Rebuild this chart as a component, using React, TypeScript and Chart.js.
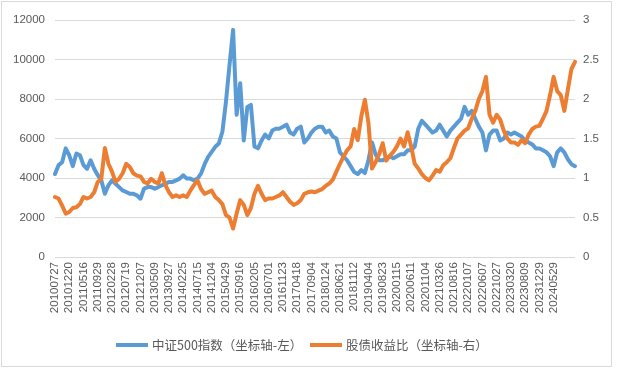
import React, { useEffect, useRef } from 'react';
import Chart from 'chart.js/auto';

const tickLabels = [
  '20100727', '20101220', '20110516', '20110929', '20120228', '20120719', '20121207', '20130509', '20130927',
  '20140225', '20140715', '20141204', '20150429', '20150916', '20160205', '20160701', '20161123', '20170418',
  '20170904', '20180124', '20180621', '20181112', '20190404', '20190823', '20200115', '20200611', '20201104',
  '20210326', '20210816', '20220107', '20220607', '20221027', '20230320', '20230809', '20231229', '20240529',
];

const POINTS_PER_TICK = 4;

// 中证500指数 (left axis)
const csi500 = [
  4200, 4650, 4800, 5500, 5150, 4600, 5240, 5150, 4650, 4470,
  4900, 4470, 4140, 3880, 3200, 3630, 3880, 3710, 3540, 3370,
  3290, 3200, 3200, 3120, 2950, 3460, 3540, 3540, 3460, 3540,
  3630, 3710, 3800, 3800, 3880, 3970, 4140, 3970, 3970, 3880,
  3970, 4220, 4700, 5070, 5320, 5580, 5750, 6340, 7860, 9730,
  11500, 7200, 8800, 5900, 7600, 7700, 5600, 5500, 5900, 6200,
  6000, 6400, 6500, 6500, 6600, 6700, 6300, 6200, 6500, 6600,
  5800, 6000, 6300, 6500, 6600, 6600, 6300, 6400, 6100, 6000,
  5300, 5100, 4900, 4600, 4300, 4200, 4400, 4250, 4900, 5800,
  5200, 4900, 4900, 5000, 5100, 5000, 5100, 5200, 5200, 5400,
  5400, 5600, 6500, 6900, 6700, 6500, 6300, 6400, 6700, 6400,
  6100, 6400, 6600, 6800, 7000, 7600, 7200, 7400, 7000, 6600,
  6300, 5400, 6200, 6400, 6400, 5900, 6000, 6300, 6200, 6300,
  6200, 6100, 5900, 5800, 5700, 5500, 5500, 5400, 5300, 5100,
  4600, 5300, 5500, 5300, 4950, 4700, 4600,
];

// 股债收益比 (right axis)
const ratio = [
  0.76, 0.74, 0.65, 0.55, 0.57, 0.62, 0.63, 0.67, 0.76, 0.74,
  0.76, 0.82, 0.95, 0.99, 1.38, 1.18, 1.08, 0.95, 0.99, 1.06,
  1.18, 1.14, 1.06, 1.03, 1.02, 0.95, 0.93, 0.99, 0.95, 0.93,
  1.06, 0.91, 0.82, 0.76, 0.78, 0.76, 0.78, 0.76, 0.84, 0.91,
  0.97, 0.86, 0.80, 0.82, 0.84, 0.76, 0.72, 0.67, 0.53, 0.50,
  0.36, 0.55, 0.72, 0.66, 0.53, 0.62, 0.80, 0.90, 0.80, 0.72,
  0.74, 0.74, 0.76, 0.78, 0.82, 0.76, 0.70, 0.66, 0.68, 0.72,
  0.80, 0.82, 0.83, 0.82, 0.84, 0.86, 0.90, 0.93, 0.98, 1.08,
  1.18, 1.27, 1.35, 1.40, 1.62, 1.48, 1.78, 1.99, 1.70, 1.12,
  1.20, 1.30, 1.44, 1.22, 1.28, 1.33, 1.40, 1.50, 1.40, 1.58,
  1.40, 1.18, 1.12, 1.05, 1.00, 0.97, 1.03, 1.10, 1.08, 1.16,
  1.20, 1.25, 1.38, 1.50, 1.55, 1.60, 1.63, 1.75, 1.85, 2.00,
  2.10, 2.28, 1.80, 1.70, 1.80, 1.74, 1.60, 1.50, 1.45, 1.45,
  1.42, 1.48, 1.44, 1.55, 1.62, 1.65, 1.66, 1.75, 1.85, 2.05,
  2.28, 2.10, 2.05, 1.85, 2.12, 2.38, 2.47,
];

const leftTicks = { min: 0, max: 12000, step: 2000 };
const rightTicks = { min: 0, max: 3, step: 0.5 };

const seriesNames = ['中证500指数（坐标轴-左）', '股债收益比（坐标轴-右）'];
const BLUE = '#5B9BD5';
const ORANGE = '#ED7D31';
const TEXT = '#595959';

const categories = csi500.map((_, i) =>
  i % POINTS_PER_TICK === 0 ? tickLabels[i / POINTS_PER_TICK] ?? '' : ''
);

export default function App() {
  const ref = useRef<HTMLCanvasElement>(null);

  useEffect(() => {
    const tickFont = { family: '"Liberation Sans", Arial, sans-serif', size: 11.5 };
    const plain = (v: any) => String(v);
    const chart = new Chart(ref.current!, {
      type: 'line',
      data: {
        labels: categories,
        datasets: [
          {
            label: seriesNames[0],
            data: csi500,
            borderColor: BLUE,
            backgroundColor: BLUE,
            borderWidth: 4,
            pointRadius: 0,
            tension: 0,
            borderJoinStyle: 'round',
            borderCapStyle: 'round',
            yAxisID: 'y',
            order: 1,
          },
          {
            label: seriesNames[1],
            data: ratio,
            borderColor: ORANGE,
            backgroundColor: ORANGE,
            borderWidth: 4,
            pointRadius: 0,
            tension: 0,
            borderJoinStyle: 'round',
            borderCapStyle: 'round',
            yAxisID: 'y1',
            order: 0,
          },
        ],
      },
      options: {
        responsive: false,
        animation: false,
        devicePixelRatio: 1,
        layout: { padding: { top: 20, left: 0, right: 0, bottom: 0 } },
        plugins: { legend: { display: false }, tooltip: { enabled: false } },
        scales: {
          x: {
            grid: { display: false, drawTicks: false },
            border: { display: false },
            ticks: {
              autoSkip: false,
              minRotation: 90,
              maxRotation: 90,
              padding: 5,
              color: TEXT,
              font: tickFont,
            },
            afterFit: (s: any) => {
              s.height = 114;
            },
          },
          y: {
            position: 'left',
            min: leftTicks.min,
            max: leftTicks.max,
            ticks: { stepSize: leftTicks.step, padding: 10, color: TEXT, font: tickFont, callback: plain },
            grid: { color: '#D9D9D9', lineWidth: 1, drawTicks: false },
            border: { display: false },
            afterFit: (s: any) => {
              s.width = 55;
            },
          },
          y1: {
            position: 'right',
            min: rightTicks.min,
            max: rightTicks.max,
            ticks: { stepSize: rightTicks.step, padding: 8, color: TEXT, font: tickFont, callback: plain },
            grid: { display: false, drawTicks: false },
            border: { display: false },
            afterFit: (s: any) => {
              s.width = 42;
            },
          },
        },
      },
    });
    return () => chart.destroy();
  }, []);

  const legendText: React.CSSProperties = {
    position: 'absolute',
    top: 336,
    fontFamily: '"Noto Sans CJK SC", sans-serif',
    fontSize: 12.5,
    lineHeight: '18px',
    color: TEXT,
    whiteSpace: 'nowrap',
  };
  const swatch = (color: string, left: number): React.CSSProperties => ({
    position: 'absolute',
    left,
    top: 343,
    width: 32,
    height: 4,
    background: color,
  });

  return (
    <div style={{ position: 'fixed', left: 0, top: 0, width: 617, height: 371, background: '#fff' }}>
      <canvas ref={ref} width={617} height={371} style={{ position: 'absolute', left: 0, top: 0 }} />
      <div
        style={{
          position: 'absolute',
          left: 1,
          top: 1,
          width: 609,
          height: 364,
          border: '1px solid #D9D9D9',
          pointerEvents: 'none',
        }}
      />
      <div style={swatch(BLUE, 116)} />
      <div style={{ ...legendText, left: 152 }}>{seriesNames[0]}</div>
      <div style={swatch(ORANGE, 310)} />
      <div style={{ ...legendText, left: 346 }}>{seriesNames[1]}</div>
    </div>
  );
}
